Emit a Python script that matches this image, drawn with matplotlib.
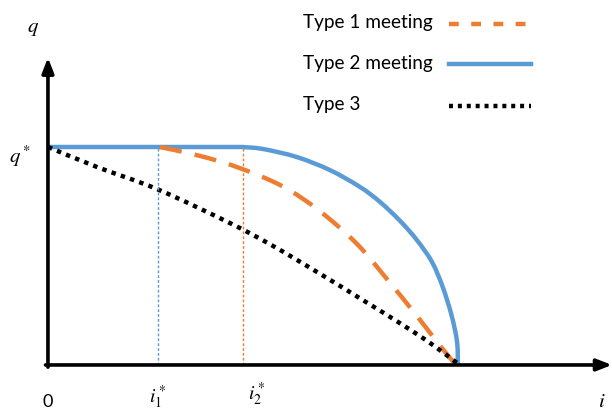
import numpy as np
import matplotlib.pyplot as plt
from matplotlib.path import Path
from matplotlib.patches import PathPatch

plt.rcParams['mathtext.fontset'] = 'stix'

# curves (i, q), q* = 1, end point i = 1
i_type2 = [0.0, 0.473, 0.524, 0.607, 0.688, 0.761, 0.810, 0.859, 0.900, 0.937, 0.963, 0.985, 0.998, 1.0]
q_type2 = [1.0, 1.0, 0.991, 0.954, 0.894, 0.817, 0.748, 0.661, 0.573, 0.472, 0.358, 0.225, 0.106, 0.0]

i_type1 = [0.273, 0.371, 0.461, 0.571, 0.663, 0.754, 0.827, 0.900, 0.963, 1.01]
q_type1 = [1.0, 0.959, 0.908, 0.821, 0.706, 0.555, 0.394, 0.225, 0.073, -0.032]

i_type3 = [0.0, 0.120, 0.266, 0.444, 0.549, 0.656, 0.768, 0.866, 0.932, 0.998]
q_type3 = [1.0, 0.908, 0.807, 0.651, 0.546, 0.427, 0.298, 0.183, 0.101, 0.009]

i1_star = 0.268
i2_star = 0.475

labels = ['Type 1 meeting', 'Type 2 meeting', 'Type 3']

orange = '#ED7D31'
blue = '#5B9BD5'


def smooth_path(ax, xs, ys, straight=0):
    # catmull-rom through the points, drawn as cubic bezier in display space
    # the first `straight` segments are plain lines
    pts = ax.transData.transform(np.column_stack([xs, ys]))
    verts = [pts[0]]
    codes = [Path.MOVETO]
    n = len(pts)
    for k in range(n - 1):
        if k < straight:
            verts.append(pts[k + 1])
            codes.append(Path.LINETO)
            continue
        p1 = pts[k]
        p2 = pts[k + 1]
        p0 = pts[k - 1] if k - 1 >= straight else p1
        p3 = pts[min(k + 2, n - 1)]
        c1 = p1 + (p2 - p0) / 6
        c2 = p2 - (p3 - p1) / 6
        verts += [c1, c2, p2]
        codes += [Path.CURVE4] * 3
    verts = ax.transData.inverted().transform(np.array(verts))
    return Path(verts, codes)


fig = plt.figure(figsize=(6.12, 4.10), dpi=100)
ax = fig.add_axes([0, 0, 1, 1])
ax.set_xlim(-0.117, 1.376)
ax.set_ylim(-0.202, 1.679)
ax.axis('off')

# axes with arrows
ax.annotate('', xy=(0, 1.41), xytext=(0, -0.01),
            arrowprops=dict(arrowstyle='-|>,head_length=0.9,head_width=0.35', lw=2.6, color='black',
                            shrinkA=0, shrinkB=0))
ax.annotate('', xy=(1.376, 0.0), xytext=(-0.006, 0.0),
            arrowprops=dict(arrowstyle='-|>,head_length=0.9,head_width=0.35', lw=2.6, color='black',
                            shrinkA=0, shrinkB=0))

# guide lines
ax.plot([i1_star, i1_star], [0, 1.0], color=blue, lw=1, ls=(0, (2, 1.5)))
ax.plot([i2_star, i2_star], [0, 1.0], color=orange, lw=1, ls=(0, (2, 1.5)))

# curves
ax.add_patch(PathPatch(smooth_path(ax, i_type2, q_type2, straight=1), fill=False, ec=blue, lw=3.2))
ax.add_patch(PathPatch(smooth_path(ax, i_type1, q_type1), fill=False, ec=orange, lw=3.2,
                       ls=(0, (5, 3)), capstyle='butt'))
ax.add_patch(PathPatch(smooth_path(ax, i_type3, q_type3), fill=False, ec='black', lw=3.2,
                       ls=(0, (1, 1.2))))

# legend drawn as text + sample lines
leg_y = [1.576, 1.389, 1.198]
styles = [dict(color=orange, ls=(0, (2.2, 2.8))), dict(color=blue, ls='-'), dict(color='black', ls=(0, (0.9, 1.1)))]
for lab, y, st in zip(labels, leg_y, styles):
    ax.text(0.622, y, lab, fontsize=13.7, family='Lato', ha='left', va='center')
    ax.plot([0.978, 1.178], [y - 0.01, y - 0.01], lw=3.2, **st)

# axis labels
ax.text(-0.037, 1.55, '$q$', fontsize=15, ha='center', va='center')
ax.text(-0.068, 0.96, '$q^*$', fontsize=15, ha='center', va='center')
ax.text(0.0, -0.165, '0', fontsize=13, family='Lato', ha='center', va='center')
ax.text(i1_star, -0.145, '$i_1^*$', fontsize=14, ha='center', va='center')
ax.text(0.51, -0.13, '$i_2^*$', fontsize=14, ha='center', va='center')
ax.text(1.352, -0.16, '$i$', fontsize=15, ha='center', va='center')

fig.savefig('out.png', dpi=100)
